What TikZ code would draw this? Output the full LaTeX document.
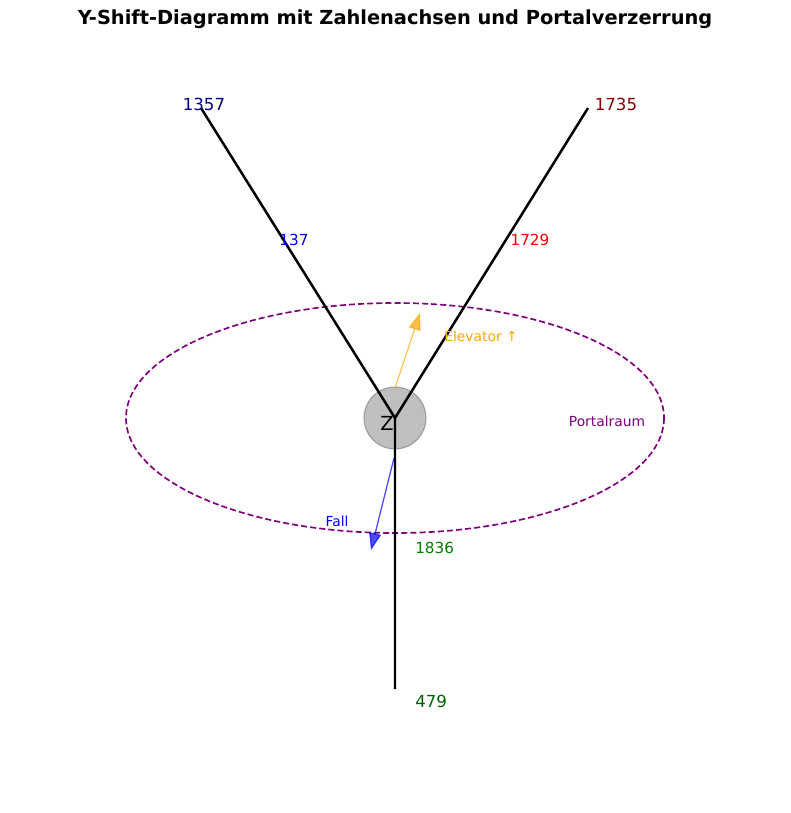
\documentclass[tikz,border=0pt]{standalone}
\usepackage{fontspec}
\setmainfont{DejaVu Sans}
\usetikzlibrary{arrows.meta}
\definecolor{mplorange}{RGB}{255,165,0}
\definecolor{mplpurple}{RGB}{128,0,128}
\definecolor{mplgreen}{RGB}{0,128,0}
\definecolor{mpldarkgreen}{RGB}{0,100,0}
\definecolor{mpldarkblue}{RGB}{0,0,139}
\definecolor{mpldarkred}{RGB}{139,0,0}

\begin{document}
\begin{tikzpicture}[x=0.01in, y=-0.01in,
		axis/.style = {line width = 1.8pt, black},
		num/.style = {font = \fontsize{11}{13}\selectfont, inner sep = 0pt},
		tip/.style = {-{Triangle[length = 0.17in, width = 0.12in]}, line width = 0.9pt, opacity = 0.7}]
		\useasboundingbox (0,0) rectangle (790,813);
		\node[font = \bfseries\fontsize{14}{16}\selectfont] (title) at (395,19) {Y-Shift-Diagramm mit Zahlenachsen und Portalverzerrung};
		% Portalraum
		\draw[mplpurple, line width = 1.2pt, dash pattern = on 4.4pt off 2.2pt] (395,418) ellipse (269 and 115);
		\node[text = mplpurple, font = \fontsize{10}{12}\selectfont] (portal) at (607,421) {Portalraum};
		% Zentrum
		\filldraw[fill = gray, draw = gray!80!black, opacity = 0.5, line width = 0.8pt] (395,418) circle (31);
		\coordinate (Z) at (395,418);
		\coordinate (a1) at (201,108);
		\coordinate (a2) at (588,108);
		\coordinate (a3) at (395,689);
		\draw[axis] (Z) -- (a1) (Z) -- (a2) (Z) -- (a3);
		\node[font = \fontsize{14}{16}\selectfont] (zlabel) at (387,423) {Z};
		% Zahlen
		\node[num, font = \fontsize{12}{14}\selectfont, text = mpldarkblue] (n1357) at (204,104) {1357};
		\node[num, font = \fontsize{12}{14}\selectfont, text = mpldarkred] (n1735) at (616,104) {1735};
		\node[num, text = blue] (n137) at (294,240) {137};
		\node[num, text = red] (n1729) at (530,240) {1729};
		\node[num, text = mplgreen, anchor = west] (n1836) at (415,548) {1836};
		\node[num, font = \fontsize{12}{14}\selectfont, text = mpldarkgreen, anchor = west] (n479) at (415,701) {479};
		% Elevator und Fall
		\coordinate (e0) at (395,388);
		\coordinate (e1) at (420,313);
		\draw[tip, color = mplorange] (e0) -- (e1);
		\node[text = mplorange, font = \fontsize{10}{12}\selectfont] (elev) at (481,336) {Elevator ↑};
		\coordinate (f0) at (394,458);
		\coordinate (f1) at (371,550);
		\draw[tip, color = blue] (f0) -- (f1);
		\node[text = blue, font = \fontsize{10}{12}\selectfont] (fall) at (337,521) {Fall};
	\end{tikzpicture}
\end{document}
